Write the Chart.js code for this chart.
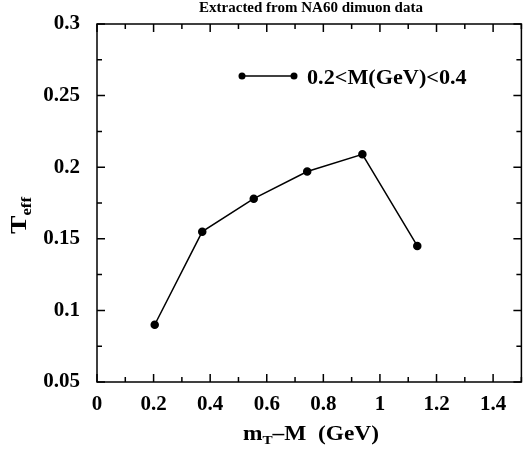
<!DOCTYPE html>
<html lang="en">
<head>
  <meta charset="UTF-8">
  <title>Teff vs mT-M</title>
  <style>
    html, body { margin: 0; padding: 0; background: #fff; }
    #wrap { width: 523px; height: 450px; }
  </style>
</head>
<body>
  <div id="wrap">
    <canvas id="myChart" width="523" height="450"></canvas>
  </div>

  <script src="https://cdn.jsdelivr.net/npm/chart.js"></script>

  <script>
    // data
    const mtMinusM = [0.204, 0.372, 0.554, 0.743, 0.938, 1.132];
    const teff = [0.090, 0.155, 0.178, 0.197, 0.209, 0.145];
    const seriesLabel = '0.2<M(GeV)<0.4';
    const chartTitle = 'Extracted from NA60 dimuon data';

    // tick positions (major ones get a label)
    const xTicks = [0, 0.1, 0.2, 0.3, 0.4, 0.5, 0.6, 0.7, 0.8, 0.9, 1, 1.1, 1.2, 1.3, 1.4, 1.5];
    const yTicks = [0.05, 0.075, 0.1, 0.125, 0.15, 0.175, 0.2, 0.225, 0.25, 0.275, 0.3];

    const FONT = "'Liberation Serif', 'DejaVu Serif', serif";
    const isMajorX = v => Math.round(v * 10) % 2 === 0;
    const isMajorY = v => Math.round(v * 1000) % 50 === 0;

    function stretchText(ctx, text, x, y, sx) {
      ctx.save();
      ctx.translate(x, y);
      ctx.scale(sx, 1);
      ctx.fillText(text, 0, 0);
      ctx.restore();
    }

    // frame with inward ticks on all four sides
    const framePlugin = {
      id: 'frame',
      beforeDatasetsDraw(chart) {
        const { ctx, scales: { x, y } } = chart;
        const l = x.getPixelForValue(0), r = x.getPixelForValue(1.5);
        const t = y.getPixelForValue(0.3), b = y.getPixelForValue(0.05);
        ctx.save();
        ctx.strokeStyle = '#000';
        ctx.lineWidth = 1.5;
        ctx.strokeRect(l, t, r - l, b - t);
        ctx.beginPath();
        xTicks.forEach(v => {
          const px = x.getPixelForValue(v);
          const len = isMajorX(v) ? 8 : 5;
          ctx.moveTo(px, b); ctx.lineTo(px, b - len);
          ctx.moveTo(px, t); ctx.lineTo(px, t + len);
        });
        yTicks.forEach(v => {
          const py = y.getPixelForValue(v);
          const len = isMajorY(v) ? 8 : 5;
          ctx.moveTo(l, py); ctx.lineTo(l + len, py);
          ctx.moveTo(r, py); ctx.lineTo(r - len, py);
        });
        ctx.stroke();
        ctx.restore();
      },
      afterDraw(chart) {
        const { ctx } = chart;
        ctx.save();
        ctx.fillStyle = '#000';
        ctx.strokeStyle = '#000';

        // title
        ctx.font = 'bold 15px ' + FONT;
        ctx.textAlign = 'center';
        ctx.textBaseline = 'alphabetic';
        ctx.fillText(chartTitle, 311, 12);

        // legend
        ctx.lineWidth = 1.5;
        ctx.beginPath();
        ctx.moveTo(242, 76); ctx.lineTo(294, 76);
        ctx.stroke();
        [242, 294].forEach(px => {
          ctx.beginPath();
          ctx.arc(px, 76, 3.5, 0, Math.PI * 2);
          ctx.fill();
        });
        ctx.font = 'bold 20px ' + FONT;
        ctx.textAlign = 'left';
        stretchText(ctx, seriesLabel, 307, 84, 1.11);

        // x axis title: m_T-M  (GeV)
        const big = 'bold 20px ' + FONT, small = 'bold 13px ' + FONT;
        ctx.font = big;
        const w1 = ctx.measureText('m').width;
        const w3 = ctx.measureText('\u2013M  (GeV)').width;
        ctx.font = small;
        const w2 = ctx.measureText('T').width;
        const sx = 136 / (w1 + w2 + w3);
        ctx.save();
        ctx.translate(243, 440);
        ctx.scale(sx, 1);
        ctx.font = big;
        ctx.fillText('m', 0, 0);
        ctx.font = small;
        ctx.fillText('T', w1, 4);
        ctx.font = big;
        ctx.fillText('\u2013M  (GeV)', w1 + w2, 0);
        ctx.restore();

        // y axis title: T_eff
        ctx.save();
        ctx.translate(26, 234);
        ctx.rotate(-Math.PI / 2);
        ctx.scale(1.2, 1);
        ctx.font = 'bold 23px ' + FONT;
        ctx.fillText('T', 0, 0);
        const tw = ctx.measureText('T').width;
        ctx.font = 'bold 14px ' + FONT;
        ctx.fillText('eff', tw, 5);
        ctx.restore();

        ctx.restore();
      }
    };

    const ctx = document.getElementById('myChart').getContext('2d');

    const chart = new Chart(ctx, {
      type: 'line',
      data: {
        datasets: [{
          label: seriesLabel,
          data: mtMinusM.map((v, i) => ({ x: v, y: teff[i] })),
          borderColor: '#000',
          backgroundColor: '#000',
          pointBackgroundColor: '#000',
          borderWidth: 1.5,
          pointRadius: 3.5,
          pointHoverRadius: 3.5,
          tension: 0
        }]
      },
      options: {
        responsive: false,
        animation: false,
        layout: { padding: { top: 24, left: 0, right: 0, bottom: 0 } },
        plugins: {
          legend: { display: false },
          tooltip: { enabled: false },
          title: { display: false }
        },
        scales: {
          x: {
            type: 'linear',
            min: 0,
            max: 1.488,
            afterBuildTicks: s => { s.ticks = xTicks.filter(v => v <= 1.4).map(v => ({ value: v })); },
            afterFit: s => { s.height = 68; },
            grid: { display: false },
            border: { display: false },
            ticks: {
              autoSkip: false,
              maxRotation: 0,
              padding: 2,
              color: '#000',
              font: { family: FONT, size: 21, weight: 'bold' },
              callback: v => isMajorX(v) ? String(v) : ''
            }
          },
          y: {
            type: 'linear',
            min: 0.05,
            max: 0.3,
            afterBuildTicks: s => { s.ticks = yTicks.map(v => ({ value: v })); },
            afterFit: s => { s.width = 97; },
            grid: { display: false },
            border: { display: false },
            ticks: {
              autoSkip: false,
              padding: 9,
              color: '#000',
              font: { family: FONT, size: 21, weight: 'bold' },
              callback: v => isMajorY(v) ? String(v) : ''
            }
          }
        }
      },
      plugins: [framePlugin]
    });
  </script>
</body>
</html>
